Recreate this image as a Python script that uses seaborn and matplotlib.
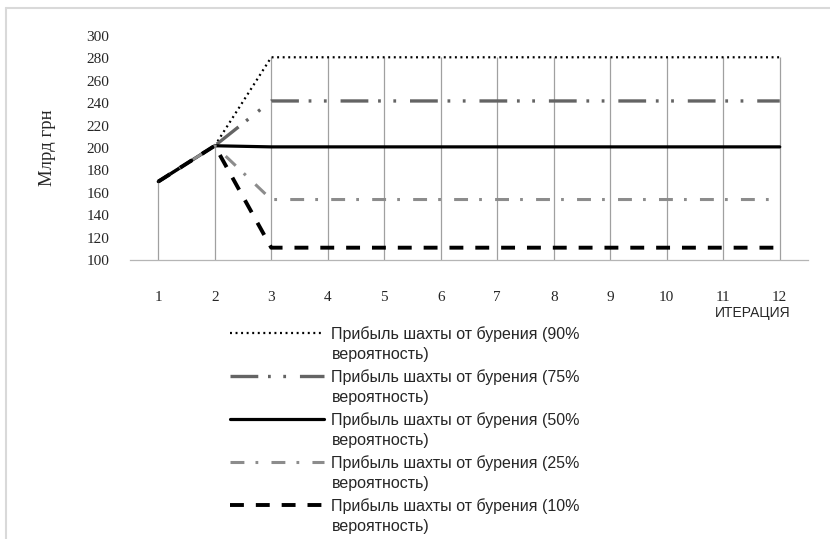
import numpy as np
import pandas as pd
import matplotlib
matplotlib.use("Agg")
import matplotlib.pyplot as plt
from matplotlib.lines import Line2D
from matplotlib.legend_handler import HandlerLine2D
import seaborn as sns

# data
iterations = list(range(1, 13))
p90 = [170, 202] + [281] * 10
p75 = [170, 202] + [242] * 10
p50 = [170, 202] + [201] * 10
p25 = [170, 202] + [154] * 10
p10 = [170, 202] + [111] * 10

labels = [
    "Прибыль шахты от бурения (90%\nвероятность)",
    "Прибыль шахты от бурения (75%\nвероятность)",
    "Прибыль шахты от бурения (50%\nвероятность)",
    "Прибыль шахты от бурения (25%\nвероятность)",
    "Прибыль шахты от бурения (10%\nвероятность)",
]

sns.set_style("white")
plt.rcParams["font.family"] = ["Liberation Sans", "DejaVu Sans"]
plt.rcParams["lines.scale_dashes"] = False


class TopLineHandler(HandlerLine2D):
    # put the legend line next to the first text line, as Excel does
    def create_artists(self, legend, orig_handle, xdescent, ydescent, width, height,
                       fontsize, trans):
        arts = super().create_artists(legend, orig_handle, xdescent, ydescent, width,
                                      height, fontsize, trans)
        for a in arts:
            a.set_ydata(np.asarray(a.get_ydata()) + fontsize * 0.71)
        return arts


fig = plt.figure(figsize=(8.3, 5.39), dpi=100)
ax = fig.add_axes([130 / 830, 1 - 260 / 539, 678 / 830, 224 / 539])

# drop lines at every iteration, up to the highest series
series = [p90, p75, p50, p25, p10]
tops = np.max(np.array(series), axis=0)
ax.vlines(iterations, 100, tops, color="#a0a0a0", lw=0.9, zorder=1)

styles = [
    dict(color="black", lw=1.6, linestyle=(0, (1.4, 2.6))),
    dict(color="#646464", lw=2.4, linestyle=(0, (20, 7, 2, 9, 2, 10))),
    dict(color="black", lw=2.3, linestyle="-"),
    dict(color="#8c8c8c", lw=2.2, linestyle=(0, (10, 8, 2, 9.5))),
    dict(color="black", lw=2.8, linestyle=(0, (10, 8.6))),
]

for vals, st, lab in zip(series, styles, labels):
    df = pd.DataFrame({"x": iterations, "y": vals})
    sns.lineplot(data=df, x="x", y="y", ax=ax, label=lab, zorder=3, **st)

ax.set_xlim(0.5, 12.5)
ax.set_ylim(100, 300)
ax.set_yticks(range(100, 301, 20))
ax.set_xticks(iterations)
ax.tick_params(axis="both", length=0)
ax.tick_params(axis="x", pad=22)
ax.tick_params(axis="y", pad=15)
for t in ax.get_xticklabels() + ax.get_yticklabels():
    t.set_fontfamily("Liberation Serif")
    t.set_fontsize(11)
for s in ["left", "right", "top"]:
    ax.spines[s].set_visible(False)
ax.spines["bottom"].set_color("#b5b5b5")
ax.spines["bottom"].set_linewidth(0.9)
ax.set_xlabel("")
ax.set_ylabel("Млрд грн", fontfamily="Liberation Serif", fontsize=13.5, labelpad=22)

fig.text(753 / 830, 1 - 313 / 539, "ИТЕРАЦИЯ", fontsize=10, ha="center", va="center")

handles, labs = ax.get_legend_handles_labels()
ax.get_legend().remove()
leg = fig.legend(handles, labs, loc="upper left", bbox_to_anchor=(222 / 830, 1 - 318 / 539),
                 frameon=False, fontsize=11.5, handlelength=5.9, handletextpad=0.45,
                 labelspacing=0.45, borderpad=0,
                 handler_map={Line2D: TopLineHandler()})
for t in leg.get_texts():
    t.set_linespacing(1.42)

# outer frame of the chart area
fig.add_artist(Line2D([6 / 830, 6 / 830], [0, 1 - 8 / 539], color="#d9d9d9", lw=1.5,
                      transform=fig.transFigure))
fig.add_artist(Line2D([6 / 830, 1], [1 - 8 / 539, 1 - 8 / 539], color="#d9d9d9", lw=1.5,
                      transform=fig.transFigure))

fig.savefig("out.png", dpi=100)
